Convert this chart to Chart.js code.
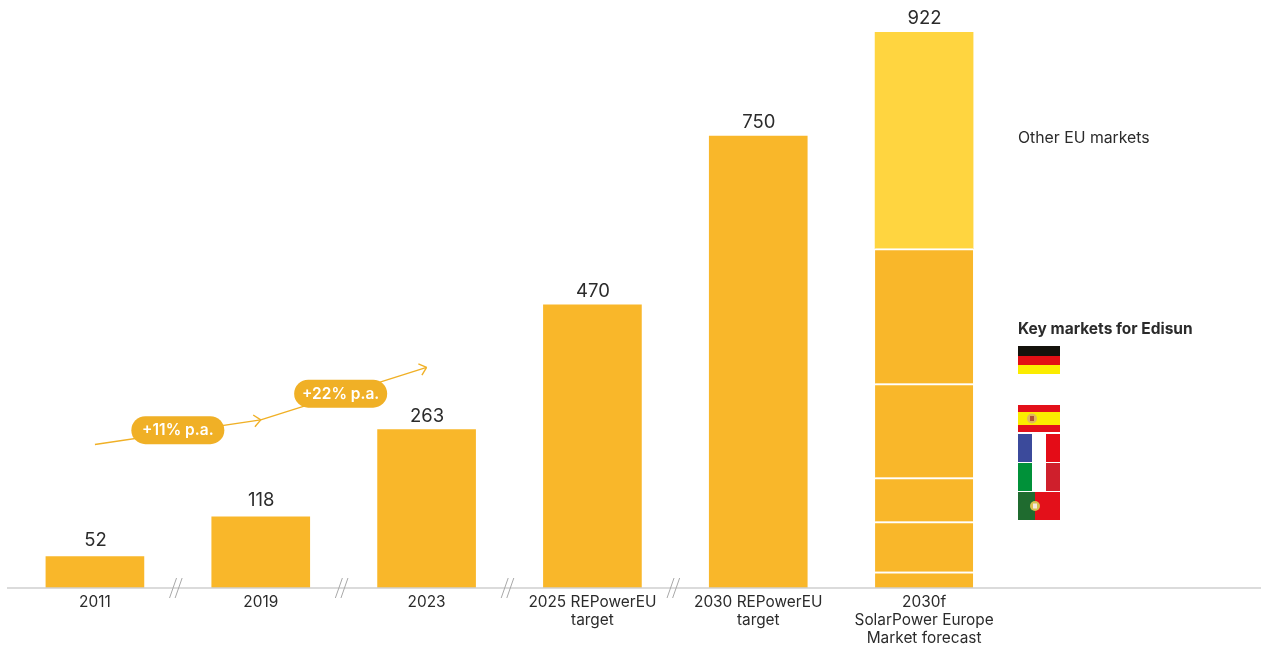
<!DOCTYPE html>
<html>
<head>
<meta charset="utf-8">
<title>EU solar capacity</title>
<script src="https://cdn.jsdelivr.net/npm/chart.js@4"></script>
<style>
    html, body { margin: 0; padding: 0; background: #fff; }
    canvas { display: block; }
</style>
</head>
<body>
<canvas id="capacityChart" width="1261" height="646"></canvas>
<script>
const categories = [
    '2011',
    '2019',
    '2023',
    ['2025 REPowerEU', 'target'],
    ['2030 REPowerEU', 'target'],
    ['2030f', 'SolarPower Europe', 'Market forecast']
];
const totals = [52, 118, 263, 470, 750, 922];

// 2030f forecast split, bottom to top
const portugal = [null, null, null, null, null, 27];
const italy = [null, null, null, null, null, 83];
const france = [null, null, null, null, null, 73];
const spain = [null, null, null, null, null, 156];
const germany = [null, null, null, null, null, 224];
const otherEu = [null, null, null, null, null, 359];
const singleBars = [52, 118, 263, 470, 750, null];

// growth arrows run through these levels at the first three categories
const growthLevels = [238, 279, 366];
const growthLabels = ['+11% p.a.', '+22% p.a.'];

const AMBER = '#f9b72a';
const LIGHT_YELLOW = '#ffd540';
const PILL = '#f0b026';
const INK = '#2b2b2b';
const FONT = 'Inter, sans-serif';

function text(ctx, str, x, y, font, color, align) {
    ctx.font = font;
    ctx.fillStyle = color;
    ctx.textAlign = align || 'center';
    ctx.textBaseline = 'middle';
    ctx.fillText(str, x, y);
}

function segment(ctx, color, width, x1, y1, x2, y2) {
    ctx.strokeStyle = color;
    ctx.lineWidth = width;
    ctx.beginPath();
    ctx.moveTo(x1, y1);
    ctx.lineTo(x2, y2);
    ctx.stroke();
}

function arrowHead(ctx, x1, y1, x2, y2) {
    const angle = Math.atan2(y2 - y1, x2 - x1);
    [-0.72, 0.72].forEach(a => {
        segment(ctx, PILL, 1.4, x2, y2, x2 - 9 * Math.cos(angle + a), y2 - 9 * Math.sin(angle + a));
    });
}

function pill(ctx, label, cx, cy) {
    const w = 93, h = 28;
    ctx.fillStyle = PILL;
    ctx.beginPath();
    ctx.roundRect(cx - w / 2, cy - h / 2, w, h, h / 2);
    ctx.fill();
    text(ctx, label, cx, cy + 0.5, '600 15.5px ' + FONT, '#fff');
}

// rough little coat of arms used on the Spanish and Portuguese flags
function crest(ctx, cx, cy, outer, inner) {
    ctx.fillStyle = outer;
    ctx.beginPath();
    ctx.arc(cx, cy, 5, 0, Math.PI * 2);
    ctx.fill();
    ctx.fillStyle = inner;
    ctx.fillRect(cx - 2, cy - 2.5, 4, 5);
}

function stripesH(ctx, x, y, w, colors, heights) {
    let top = y;
    colors.forEach((c, i) => {
        ctx.fillStyle = c;
        ctx.fillRect(x, top, w, heights[i]);
        top += heights[i];
    });
}

function stripesV(ctx, x, y, h, colors, widths) {
    let left = x;
    colors.forEach((c, i) => {
        ctx.fillStyle = c;
        ctx.fillRect(left, y, widths[i], h);
        left += widths[i];
    });
}

function drawFlags(ctx) {
    const x = 1018, w = 42;
    stripesH(ctx, x, 346, w, ['#15120c', '#e30f14', '#fbec00'], [10, 9, 9]);
    stripesH(ctx, x, 405, w, ['#e3101a', '#fbec00', '#e3101a'], [7, 13, 7]);
    crest(ctx, x + 14, 418.5, '#e2b65c', '#b4502f');
    stripesV(ctx, x, 434, 28, ['#3b4a9b', '#ffffff', '#e40c17'], [14, 14, 14]);
    stripesV(ctx, x, 463, 28, ['#009139', '#ffffff', '#cf1f2c'], [14, 14, 14]);
    stripesV(ctx, x, 492, 28, ['#1f6b2f', '#e3101a'], [17, 25]);
    crest(ctx, x + 17, 506, '#d8c050', '#f4e8e0');
}

const annotations = {
    id: 'annotations',
    afterDatasetsDraw(chart) {
        const ctx = chart.ctx;
        const xs = chart.scales.x;
        const ys = chart.scales.y;
        const base = ys.getPixelForValue(0);
        ctx.save();

        // baseline runs past the plot on both sides
        segment(ctx, '#cfcfcf', 1.5, 7, base, 1261, base);

        // totals above the columns, the two short ones sit a little higher
        totals.forEach((v, i) => {
            const gap = i < 2 ? 16.5 : 13.5;
            text(ctx, String(v), xs.getPixelForValue(i) + 0.5, ys.getPixelForValue(v) - gap, '18.5px ' + FONT, INK);
        });

        // axis break marks between the columns, none before the forecast
        for (let i = 0; i < 4; i++) {
            const mid = (xs.getPixelForValue(i) + xs.getPixelForValue(i + 1)) / 2 - 2;
            [-2.8, 2.8].forEach(dx => {
                segment(ctx, '#a8a8a8', 1, mid + dx - 3.5, base + 10, mid + dx + 3.5, base - 10);
            });
        }

        // growth arrows with their rate pills
        const pts = growthLevels.map((v, i) => ({ x: xs.getPixelForValue(i), y: ys.getPixelForValue(v) }));
        for (let i = 0; i < pts.length - 1; i++) {
            const a = pts[i], b = pts[i + 1];
            segment(ctx, PILL, 1.4, a.x, a.y, b.x, b.y);
            arrowHead(ctx, a.x, a.y, b.x, b.y);
        }
        growthLabels.forEach((label, i) => {
            const a = pts[i], b = pts[i + 1];
            pill(ctx, label, (a.x + b.x) / 2 - i * 3, (a.y + b.y) / 2 - 2 + i * 2);
        });

        // right-hand key
        text(ctx, 'Other EU markets', 1018, 138, '15.8px ' + FONT, INK, 'left');
        text(ctx, 'Key markets for Edisun', 1018, 329, '700 15.5px ' + FONT, INK, 'left');
        drawFlags(ctx);
        ctx.restore();
    }
};

function stackPart(data, color, topLine) {
    return {
        data: data,
        backgroundColor: color,
        borderColor: '#ffffff',
        borderWidth: topLine ? { top: 2, right: 0, bottom: 0, left: 0 } : 0,
        borderSkipped: false,
        barThickness: 98
    };
}

new Chart(document.getElementById('capacityChart'), {
    type: 'bar',
    data: {
        labels: categories,
        datasets: [
            stackPart(singleBars, AMBER, false),
            stackPart(portugal, AMBER, true),
            stackPart(italy, AMBER, true),
            stackPart(france, AMBER, true),
            stackPart(spain, AMBER, true),
            stackPart(germany, AMBER, true),
            stackPart(otherEu, LIGHT_YELLOW, false)
        ]
    },
    options: {
        responsive: false,
        animation: false,
        layout: { padding: { left: 12, right: 254, top: 10, bottom: 0 } },
        plugins: {
            legend: { display: false },
            title: { display: false },
            tooltip: { enabled: false }
        },
        scales: {
            x: {
                stacked: true,
                grid: { display: false, drawTicks: false },
                border: { display: false },
                afterFit: scale => { scale.height = 58; },
                ticks: {
                    padding: 5,
                    maxRotation: 0,
                    autoSkip: false,
                    color: INK,
                    font: { family: FONT, size: 15.4, lineHeight: 1.17 }
                }
            },
            y: {
                display: false,
                stacked: true,
                min: 0,
                max: 959
            }
        }
    },
    plugins: [annotations]
});
</script>
</body>
</html>
